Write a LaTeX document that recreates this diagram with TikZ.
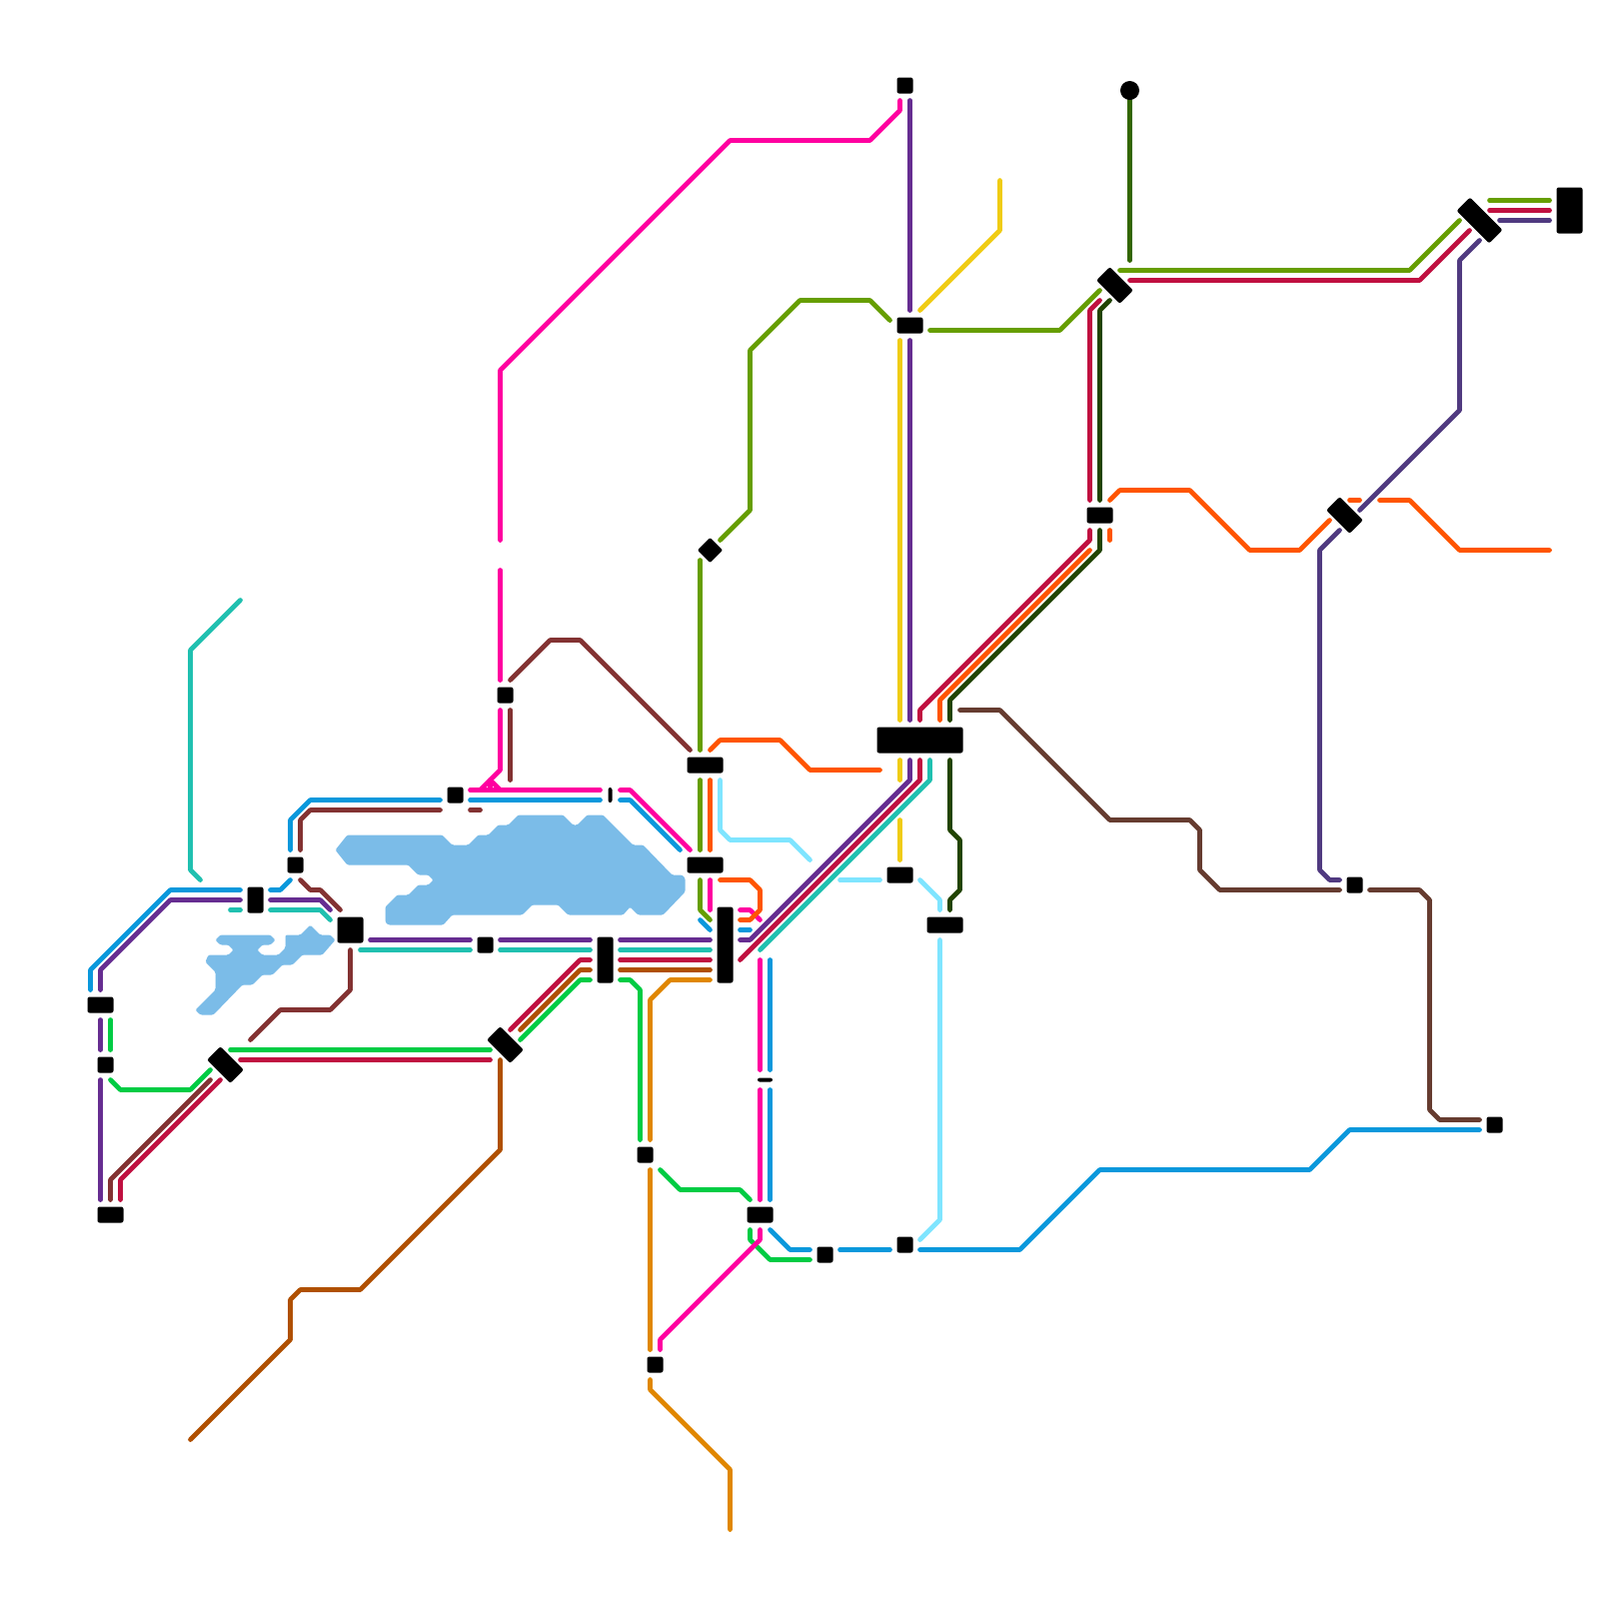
\documentclass[tikz,border=0pt]{standalone}
\usepackage{xcolor}
\usetikzlibrary{positioning}
\definecolor{LineBlue}{RGB}{10,152,220}
\definecolor{LinePurple}{RGB}{102,45,145}
\definecolor{LineTeal}{RGB}{32,192,176}
\definecolor{LineGreen}{RGB}{0,204,68}
\definecolor{LineCrimson}{RGB}{192,16,64}
\definecolor{LineMaroon}{RGB}{131,50,50}
\definecolor{LineMagenta}{RGB}{255,0,160}
\definecolor{LineAmber}{RGB}{224,135,0}
\definecolor{LineRust}{RGB}{176,80,0}
\definecolor{LineOlive}{RGB}{102,158,0}
\definecolor{LineOrange}{RGB}{255,85,0}
\definecolor{LineSky}{RGB}{127,229,255}
\definecolor{LineYellow}{RGB}{240,204,20}
\definecolor{LineNight}{RGB}{34,68,0}
\definecolor{LineForest}{RGB}{51,102,0}
\definecolor{LineIndigo}{RGB}{80,58,128}
\definecolor{LineBrown}{RGB}{102,60,48}
\definecolor{LakeBlue}{RGB}{123,188,232}
\tikzset{
	route/.style={line width=0.47mm, line cap=round, line join=round},
	sta/.style 2 args={fill=black, inner sep=0pt, rounded corners=0.6pt, minimum width=#1*0.1mm, minimum height=#2*0.1mm}
}
\begin{document}
\begin{tikzpicture}[x=0.1mm, y=-0.1mm]
	\useasboundingbox (-0.5,-0.5) rectangle (1599.5,1599.5);

	% lakes
	\fill[LakeBlue, rounded corners=0.4pt] (347,835) -- (442,835) -- (452,845) -- (468,845) -- (478,835) -- (488,835) -- (498,825) -- (508,825) -- (518,815) -- (563,815) -- (573,825) -- (577,825) -- (587,815) -- (603,815) -- (633,845) -- (643,845) -- (672,875) -- (682,875) -- (685,878) -- (685,892) -- (663,915) -- (638,915) -- (630,907) -- (623,915) -- (568,915) -- (558,905) -- (532,905) -- (522,915) -- (452,915) -- (443,925) -- (388,925) -- (385,922) -- (385,907) -- (397,895) -- (408,895) -- (418,885) -- (428,885) -- (433,880) -- (428,875) -- (418,875) -- (408,865) -- (347,865) -- (335,850) -- cycle;
	\fill[LakeBlue, rounded corners=0.4pt] (220,935) -- (270,935) -- (275,940) -- (270,945) -- (262,945) -- (257,950) -- (262,955) -- (278,955) -- (285,948) -- (285,935) -- (300,935) -- (310,925) -- (320,935) -- (330,935) -- (335,940) -- (322,955) -- (302,955) -- (292,965) -- (282,965) -- (272,975) -- (262,975) -- (252,985) -- (242,985) -- (213,1015) -- (200,1015) -- (195,1010) -- (215,990) -- (215,972) -- (205,962) -- (208,955) -- (228,955) -- (233,950) -- (228,945) -- (220,945) -- (215,940) -- cycle;

	% blue
	\draw[route, LineBlue] (90,990) -- (90,970) -- (170,890) -- (240,890);
	\draw[route, LineBlue] (270,890) -- (280,890) -- (290,880);
	\draw[route, LineBlue] (290,850) -- (290,820) -- (310,800) -- (440,800);
	\draw[route, LineBlue] (470,800) -- (600,800);
	\draw[route, LineBlue] (620,800) -- (630,800) -- (680,850);
	\draw[route, LineBlue] (700,920) -- (710,930);
	\draw[route, LineBlue] (740,930) -- (750,930);
	\draw[route, LineBlue] (770,960) -- (770,1070);
	\draw[route, LineBlue] (770,1090) -- (770,1200);
	\draw[route, LineBlue] (770,1230) -- (790,1250) -- (810,1250);
	\draw[route, LineBlue] (840,1250) -- (890,1250);
	\draw[route, LineBlue] (920,1250) -- (1020,1250) -- (1100,1170) -- (1310,1170) -- (1350,1130) -- (1480,1130);

	% purple
	\draw[route, LinePurple] (100,990) -- (100,970) -- (170,900) -- (240,900);
	\draw[route, LinePurple] (270,900) -- (320,900) -- (330,910);
	\draw[route, LinePurple] (370,940) -- (470,940);
	\draw[route, LinePurple] (500,940) -- (590,940);
	\draw[route, LinePurple] (620,940) -- (710,940);
	\draw[route, LinePurple] (740,940) -- (750,940) -- (910,780) -- (910,760);
	\draw[route, LinePurple] (910,720) -- (910,340);
	\draw[route, LinePurple] (910,310) -- (910,100);
	\draw[route, LinePurple] (100,1020) -- (100,1050);
	\draw[route, LinePurple] (100,1080) -- (100,1200);

	% teal
	\draw[route, LineTeal] (240,600) -- (190,650) -- (190,870) -- (200,880);
	\draw[route, LineTeal] (230,910) -- (240,910);
	\draw[route, LineTeal] (270,910) -- (320,910) -- (330,920);
	\draw[route, LineTeal] (360,950) -- (470,950);
	\draw[route, LineTeal] (500,950) -- (590,950);
	\draw[route, LineTeal] (620,950) -- (710,950);
	\draw[route, LineTeal] (760,950) -- (930,780) -- (930,760);

	% green
	\draw[route, LineGreen] (110,1020) -- (110,1050);
	\draw[route, LineGreen] (110,1080) -- (120,1090) -- (190,1090) -- (210,1070);
	\draw[route, LineGreen] (230,1050) -- (490,1050);
	\draw[route, LineGreen] (520,1040) -- (580,980) -- (590,980);
	\draw[route, LineGreen] (620,980) -- (630,980) -- (640,990) -- (640,1140);
	\draw[route, LineGreen] (660,1170) -- (680,1190) -- (740,1190) -- (750,1200);
	\draw[route, LineGreen] (750,1230) -- (750,1240) -- (770,1260) -- (810,1260);

	% crimson
	\draw[route, LineCrimson] (120,1200) -- (120,1180) -- (220,1080);
	\draw[route, LineCrimson] (240,1060) -- (490,1060);
	\draw[route, LineCrimson] (510,1030) -- (580,960) -- (590,960);
	\draw[route, LineCrimson] (620,960) -- (710,960);
	\draw[route, LineCrimson] (740,960) -- (920,780) -- (920,760);
	\draw[route, LineCrimson] (920,720) -- (920,710) -- (1090,540) -- (1090,530);
	\draw[route, LineCrimson] (1090,500) -- (1090,310) -- (1100,300);
	\draw[route, LineCrimson] (1130,280) -- (1420,280) -- (1470,230);
	\draw[route, LineCrimson] (1490,210) -- (1550,210);

	% maroon
	\draw[route, LineMaroon] (300,850) -- (300,820) -- (310,810) -- (440,810);
	\draw[route, LineMaroon] (470,810) -- (480,810);
	\draw[route, LineMaroon] (510,710) -- (510,780);
	\draw[route, LineMaroon] (510,680) -- (550,640) -- (580,640) -- (690,750);
	\draw[route, LineMaroon] (300,880) -- (310,890) -- (320,890) -- (340,910);
	\draw[route, LineMaroon] (350,950) -- (350,990) -- (330,1010) -- (280,1010) -- (250,1040);
	\draw[route, LineMaroon] (210,1080) -- (110,1180) -- (110,1200);

	% magenta
	\draw[route, LineMagenta] (900,100) -- (900,110) -- (870,140) -- (730,140) -- (500,370) -- (500,540);
	\draw[route, LineMagenta] (500,570) -- (500,680);
	\draw[route, LineMagenta] (500,710) -- (500,770) -- (480,790);
	\draw[route, LineMagenta] (490,780) -- (500,790);
	\draw[route, LineMagenta] (490,780) -- (490,790);
	\draw[route, LineMagenta] (470,790) -- (600,790);
	\draw[route, LineMagenta] (620,790) -- (630,790) -- (690,850);
	\draw[route, LineMagenta] (710,880) -- (710,910);
	\draw[route, LineMagenta] (740,910) -- (750,910) -- (760,920);
	\draw[route, LineMagenta] (760,960) -- (760,1070);
	\draw[route, LineMagenta] (760,1090) -- (760,1200);
	\draw[route, LineMagenta] (760,1230) -- (760,1240) -- (660,1340) -- (660,1350);

	% amber and rust
	\draw[route, LineAmber] (710,980) -- (670,980) -- (650,1000) -- (650,1140);
	\draw[route, LineAmber] (650,1170) -- (650,1350);
	\draw[route, LineAmber] (650,1380) -- (650,1390) -- (730,1470) -- (730,1530);
	\draw[route, LineRust] (620,970) -- (710,970);
	\draw[route, LineRust] (520,1030) -- (580,970) -- (590,970);
	\draw[route, LineRust] (500,1060) -- (500,1150) -- (360,1290) -- (300,1290) -- (290,1300) -- (290,1340) -- (190,1440);

	% olive
	\draw[route, LineOlive] (890,320) -- (870,300) -- (800,300) -- (750,350) -- (750,510) -- (720,540);
	\draw[route, LineOlive] (700,560) -- (700,750);
	\draw[route, LineOlive] (700,780) -- (700,850);
	\draw[route, LineOlive] (700,880) -- (700,910) -- (710,920);
	\draw[route, LineOlive] (930,330) -- (1060,330) -- (1100,290);
	\draw[route, LineOlive] (1120,270) -- (1410,270) -- (1460,220);
	\draw[route, LineOlive] (1490,200) -- (1550,200);

	% orange
	\draw[route, LineOrange] (710,750) -- (720,740) -- (780,740) -- (810,770) -- (880,770);
	\draw[route, LineOrange] (710,780) -- (710,850);
	\draw[route, LineOrange] (720,880) -- (750,880) -- (760,890) -- (760,910) -- (750,920) -- (740,920);
	\draw[route, LineOrange] (940,720) -- (940,700) -- (1090,550);
	\draw[route, LineOrange] (1110,530) -- (1110,540);
	\draw[route, LineOrange] (1110,500) -- (1120,490) -- (1190,490) -- (1250,550) -- (1300,550) -- (1330,520);
	\draw[route, LineOrange] (1350,500) -- (1360,500);
	\draw[route, LineOrange] (1380,500) -- (1410,500) -- (1460,550) -- (1550,550);

	% sky
	\draw[route, LineSky] (720,780) -- (720,830) -- (730,840) -- (790,840) -- (810,860);
	\draw[route, LineSky] (840,880) -- (880,880);
	\draw[route, LineSky] (920,880) -- (940,900) -- (940,910);
	\draw[route, LineSky] (940,940) -- (940,1220) -- (920,1240);

	% yellow
	\draw[route, LineYellow] (1000,180) -- (1000,230) -- (920,310);
	\draw[route, LineYellow] (900,340) -- (900,720);
	\draw[route, LineYellow] (900,760) -- (900,780);
	\draw[route, LineYellow] (900,820) -- (900,860);

	% dark greens
	\draw[route, LineNight] (1110,300) -- (1100,310) -- (1100,500);
	\draw[route, LineNight] (1100,530) -- (1100,550) -- (950,700) -- (950,720);
	\draw[route, LineNight] (950,760) -- (950,830) -- (960,840) -- (960,890) -- (950,900) -- (950,910);
	\draw[route, LineForest] (1130,90) -- (1130,260);
	\fill[black] (1130,90) circle (0.95mm);

	% indigo
	\draw[route, LineIndigo] (1500,220) -- (1550,220);
	\draw[route, LineIndigo] (1480,240) -- (1460,260) -- (1460,410) -- (1360,510);
	\draw[route, LineIndigo] (1340,530) -- (1320,550) -- (1320,870) -- (1330,880) -- (1340,880);

	% brown
	\draw[route, LineBrown] (960,710) -- (1000,710) -- (1110,820) -- (1190,820) -- (1200,830) -- (1200,870) -- (1220,890) -- (1340,890);
	\draw[route, LineBrown] (1370,890) -- (1420,890) -- (1430,900) -- (1430,1110) -- (1440,1120) -- (1480,1120);

	% stations
	\node[sta={26}{16}] (sWestA) at (100,1005) {};
	\node[sta={16}{16}] (sWestB) at (105,1065) {};
	\node[sta={26}{16}] (sWestC) at (110,1215) {};
	\node[sta={16}{26}] (sLakeA) at (255,900) {};
	\node[sta={16}{16}] (sLakeB) at (295,865) {};
	\node[sta={26}{26}] (sLakeC) at (350,930) {};
	\node[sta={16}{16}] (sNorthA) at (455,795) {};
	\node[sta={16}{16}] (sSouthA) at (485,945) {};
	\node[sta={16}{16}] (sNorthB) at (505,695) {};
	\node[sta={16}{46}] (sSouthB) at (605,960) {};
	\node[sta={4}{15}] (sNorthC) at (610,795) {};
	\node[sta={36}{16}] (sMidA) at (705,765) {};
	\node[sta={36}{16}] (sMidB) at (705,865) {};
	\node[sta={16}{76}] (sMidC) at (725,945) {};
	\node[sta={16}{16}] (sLowA) at (645,1155) {};
	\node[sta={16}{16}] (sLowB) at (655,1365) {};
	\node[sta={26}{16}] (sLowC) at (760,1215) {};
	\node[sta={15}{4}] (sLowD) at (765,1080) {};
	\node[sta={16}{16}] (sLowE) at (825,1255) {};
	\node[sta={16}{16}] (sLowF) at (905,1245) {};
	\node[sta={16}{16}] (sTop) at (905,85) {};
	\node[sta={26}{16}] (sUpper) at (910,325) {};
	\node[sta={86}{26}] (sHub) at (920,740) {};
	\node[sta={26}{16}] (sHubA) at (900,875) {};
	\node[sta={36}{16}] (sHubB) at (945,925) {};
	\node[sta={26}{16}] (sEastA) at (1100,515) {};
	\node[sta={16}{16}] (sEastB) at (1355,885) {};
	\node[sta={16}{16}] (sEastC) at (1495,1125) {};
	\node[sta={26}{46}] (sEnd) at (1570,210) {};
	% turned stations
	\node[sta={33}{19}, rotate=-45] (sTurnA) at (225,1065) {};
	\node[sta={33}{19}, rotate=-45] (sTurnB) at (505,1045) {};
	\node[sta={18}{18}, rotate=-45] (sTurnC) at (710,550) {};
	\node[sta={33}{19}, rotate=-45] (sTurnD) at (1115,285) {};
	\node[sta={33}{19}, rotate=-45] (sTurnE) at (1345,515) {};
	\node[sta={46}{19}, rotate=-45] (sTurnF) at (1480,220) {};
\end{tikzpicture}
\end{document}
